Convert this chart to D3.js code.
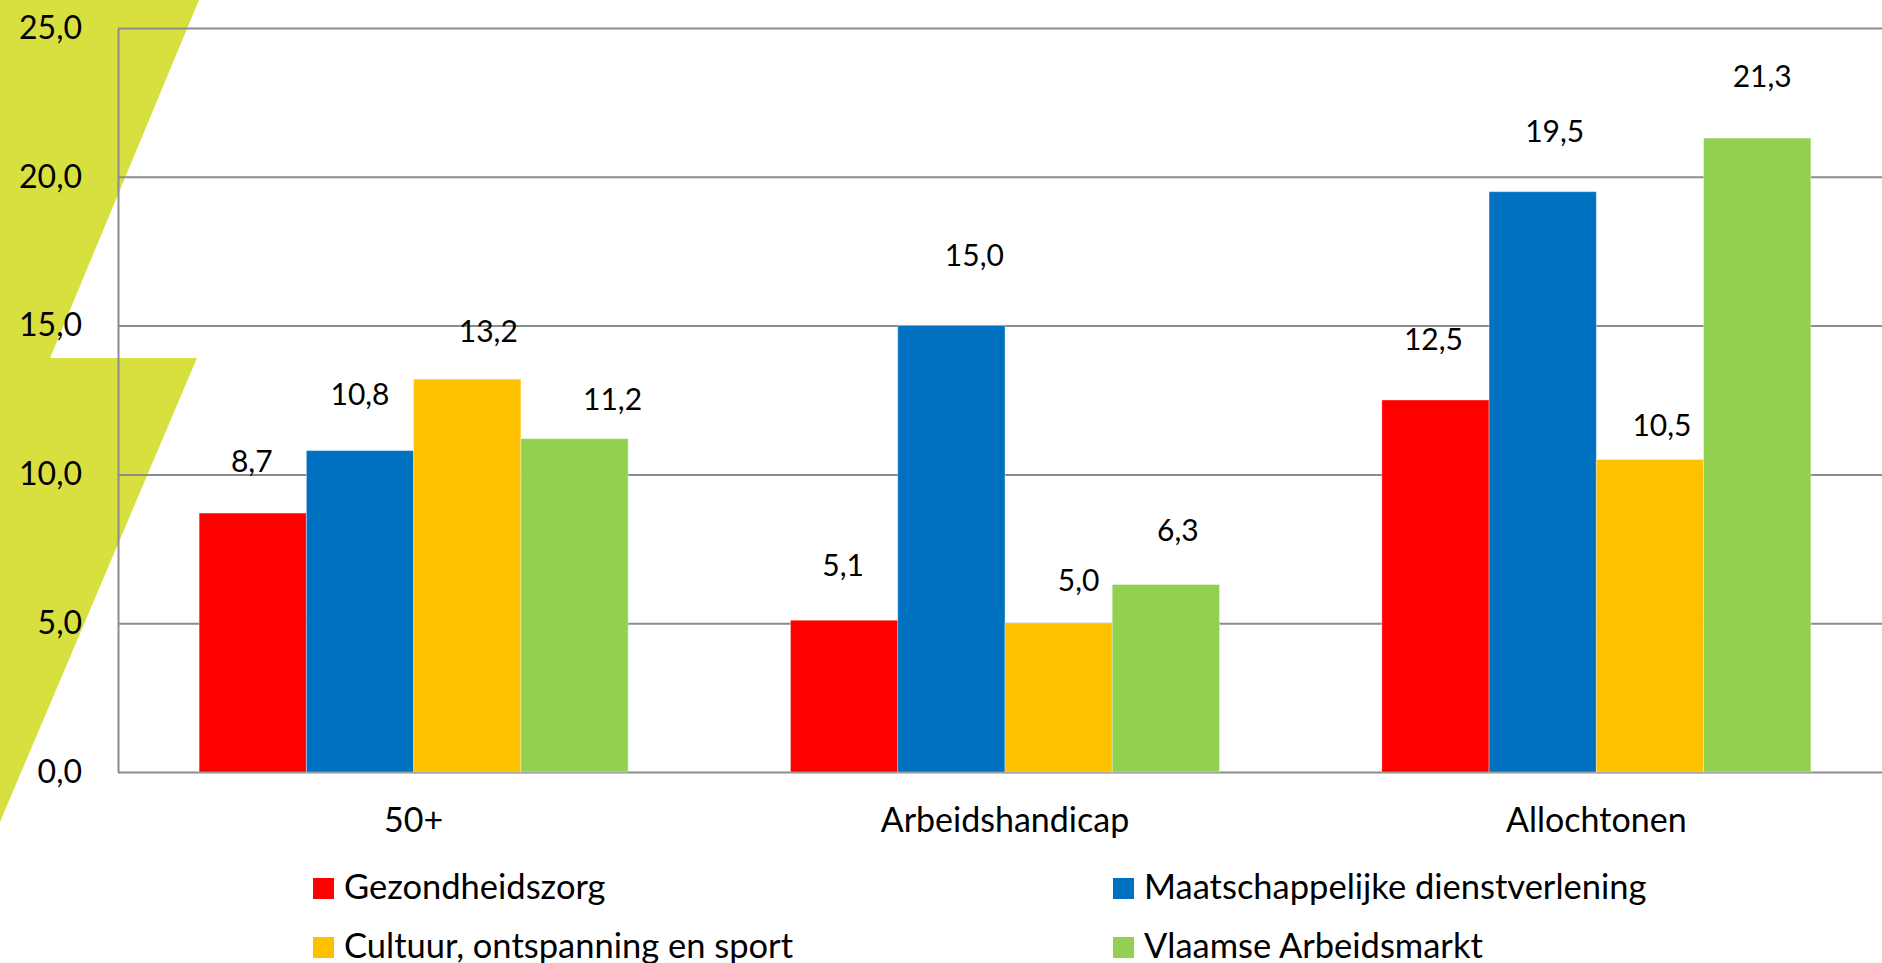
<!DOCTYPE html>
<html>
<head>
<meta charset="utf-8">
<script src="https://cdn.jsdelivr.net/npm/d3@7"></script>
<style>
  html, body { margin: 0; padding: 0; background: #fff; }
  svg { display: block; font-family: Lato, "Open Sans", sans-serif; }
</style>
</head>
<body>
<svg id="chart" width="1882" height="963"></svg>
<script>
// Data ----------------------------------------
var groups = ["50+", "Arbeidshandicap", "Allochtonen"];
var sectors = ["Gezondheidszorg", "Maatschappelijke dienstverlening", "Cultuur, ontspanning en sport", "Vlaamse Arbeidsmarkt"];
var gezondheidszorg = [8.7, 5.1, 12.5];
var maatschappelijk = [10.8, 15.0, 19.5];
var cultuur = [13.2, 5.0, 10.5];
var vlaamseArbeidsmarkt = [11.2, 6.3, 21.3];
var yTicks = [0, 5, 10, 15, 20, 25];

var series = [gezondheidszorg, maatschappelijk, cultuur, vlaamseArbeidsmarkt];
var sectorColors = ["#FF0000", "#0070C0", "#FFC000", "#92D050"];

// hand-placed data labels in the original: [dx, dy] nudges per group / sector
var labelNudge = [
  [[-1, 3], [0, -2], [21, 7], [38, 15]],
  [[-1, 0], [23, -16], [20, 12], [12, 0]],
  [[-2, -6], [12, -6], [12, 20], [5, -7]]
];

// Layout ----------------------------------------
var svg = d3.select("#chart");
// plot area runs a little past the right edge of the picture
var plotLeft = 118, plotRight = 1892, plotTop = 28, plotBottom = 772;

var nl = d3.formatLocale({ decimal: ",", thousands: ".", grouping: [3], currency: ["", " €"] });
var fmt = nl.format(".1f");

var x0 = d3.scaleBand().domain(groups).range([plotLeft, plotRight])
  .paddingInner(0.2745).paddingOuter(0.1372);
var x1 = d3.scaleBand().domain(d3.range(sectors.length)).range([0, x0.bandwidth()]);
var y = d3.scaleLinear().domain([0, 25]).range([plotBottom, plotTop]);

// Background shape ----------------------------------------
svg.append("polygon")
  .attr("points", "0,0 199,0 50,358 197,358 0,822")
  .attr("fill", "#D7E03F");

// Y axis + gridlines ----------------------------------------
var yAxis = svg.append("g")
  .attr("transform", "translate(" + plotLeft + ",0)")
  .call(d3.axisLeft(y).tickValues(yTicks).tickFormat(fmt)
    .tickSizeInner(-(plotRight - plotLeft)).tickSizeOuter(0).tickPadding(36));

yAxis.select(".domain").attr("stroke", "#8c8c8c").attr("stroke-width", 2);
yAxis.selectAll(".tick line").attr("stroke", "#8c8c8c").attr("stroke-width", 2);
yAxis.selectAll(".tick text")
  .attr("fill", "#000")
  .style("font-size", "32px")
  .style("font-family", "Lato, 'Open Sans', sans-serif");

// Bars ----------------------------------------
var rows = [];
groups.forEach(function(g, gi) {
  series.forEach(function(s, si) {
    rows.push({ group: g, gi: gi, si: si, value: s[gi] });
  });
});

svg.append("g")
  .selectAll("rect")
  .data(rows)
  .enter().append("rect")
  .attr("x", function(d) { return x0(d.group) + x1(d.si); })
  .attr("y", function(d) { return y(d.value); })
  .attr("width", x1.bandwidth())
  .attr("height", function(d) { return y(0) - y(d.value); })
  .attr("fill", function(d) { return sectorColors[d.si]; })
  .attr("stroke", "#fff")
  .attr("stroke-opacity", 0.35)
  .attr("stroke-width", 1);

// Bar labels ----------------------------------------
svg.append("g")
  .selectAll("text")
  .data(rows)
  .enter().append("text")
  .attr("x", function(d) { return x0(d.group) + x1(d.si) + x1.bandwidth() / 2 + labelNudge[d.gi][d.si][0]; })
  .attr("y", function(d) { return y(d.value) - 44 + labelNudge[d.gi][d.si][1]; })
  .attr("text-anchor", "middle")
  .style("font-size", "30px")
  .text(function(d) { return fmt(d.value); });

// Category labels ----------------------------------------
svg.append("g")
  .selectAll("text")
  .data(groups)
  .enter().append("text")
  .attr("x", function(d) { return x0(d) + x0.bandwidth() / 2; })
  .attr("y", 832)
  .attr("text-anchor", "middle")
  .style("font-size", "34px")
  .text(function(d) { return d; });

// Legend ----------------------------------------
var legend = svg.append("g")
  .selectAll("g")
  .data(sectors)
  .enter().append("g")
  .attr("transform", function(d, i) {
    return "translate(" + (313 + (i % 2) * 800) + "," + (878 + Math.floor(i / 2) * 59) + ")";
  });

legend.append("rect")
  .attr("width", 21)
  .attr("height", 21)
  .attr("fill", function(d, i) { return sectorColors[i]; });

legend.append("text")
  .attr("x", 31)
  .attr("y", 21)
  .style("font-size", "34.5px")
  .text(function(d) { return d; });
</script>
</body>
</html>
